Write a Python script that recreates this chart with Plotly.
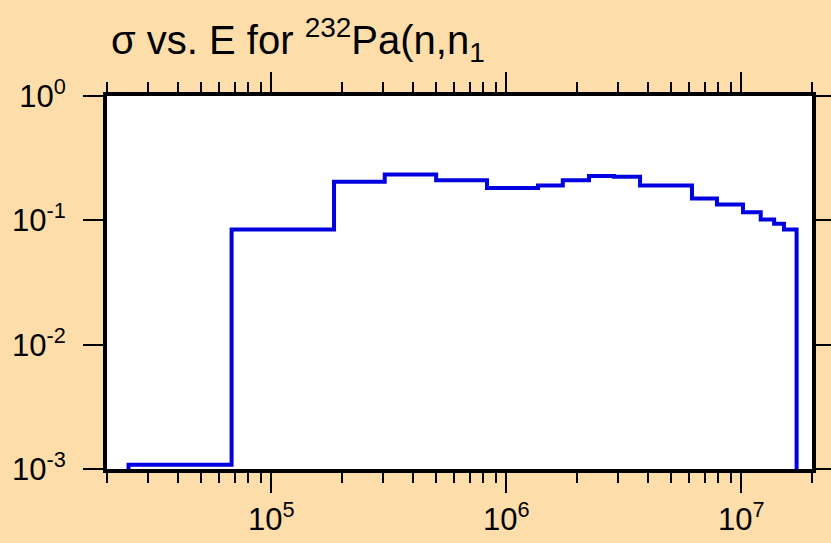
import math
import plotly.graph_objects as go

# Group boundaries (eV) and cross sections (b)
energy_edges = [2.47e4, 6.78e4, 1.85e5, 3.04e5, 5.03e5, 8.28e5, 1.365e6, 1.74e6,
                2.25e6, 2.87e6, 3.71e6, 6.17e6, 7.88e6, 1.017e7, 1.21e7, 1.38e7,
                1.52e7, 1.72e7]
sigma_values = [1.08e-3, 0.0842, 0.204, 0.234, 0.210, 0.182, 0.191, 0.210,
                0.227, 0.224, 0.191, 0.150, 0.134, 0.116, 0.1017, 0.0937, 0.0845]
y_floor = 1e-3

x_tick_vals = [1e5, 1e6, 1e7]
x_tick_text = ["10<sup>5</sup>", "10<sup>6</sup>", "10<sup>7</sup>"]
y_tick_vals = [1e-3, 1e-2, 1e-1, 1e0]
y_tick_text = ["10<sup>-3</sup>", "10<sup>-2</sup>", "10<sup>-1</sup>", "10<sup>0</sup>"]
x_minor_vals = [m * 10 ** d for d in range(4, 8) for m in range(2, 10)]

title_text = "σ vs. E for <sup>232</sup>Pa(n,n<sub>1</sub>"

# step outline
xs = [energy_edges[0]] + energy_edges[:-1] + [energy_edges[-1], energy_edges[-1]]
ys = [y_floor] + sigma_values + [sigma_values[-1], y_floor]

FONT = "Liberation Sans, Arial, Helvetica, sans-serif"

fig = go.Figure()
fig.add_trace(go.Scatter(x=xs, y=ys, mode="lines", line_shape="hv",
                         line=dict(color="#0000E0", width=4), showlegend=False,
                         hoverinfo="skip"))

axis_common = dict(showline=True, linecolor="black", linewidth=4, mirror="allticks",
                   ticks="outside", ticklen=20, tickwidth=2, tickcolor="black",
                   showgrid=False, zeroline=False, automargin=False,
                   tickfont=dict(family=FONT, size=31, color="black"))

fig.update_xaxes(type="log", range=[math.log10(2e4), math.log10(2e7)],
                 tickmode="array", tickvals=x_tick_vals, ticktext=x_tick_text,
                 minor=dict(tickmode="array", tickvals=x_minor_vals, ticks="outside",
                            ticklen=10, tickwidth=2, tickcolor="black"),
                 ticklabelstandoff=0,
                 **axis_common)
fig.update_yaxes(type="log", range=[-3, 0],
                 tickmode="array", tickvals=y_tick_vals, ticktext=y_tick_text,
                 ticklabelstandoff=11,
                 **axis_common)

fig.update_layout(
    width=831, height=543,
    margin=dict(l=107, r=19, t=96, b=74, pad=0, autoexpand=False),
    paper_bgcolor="#FDDEAB",
    plot_bgcolor="#FFFFFF",
    font=dict(family=FONT, color="black"),
    title=dict(text=title_text, font=dict(family=FONT, size=40, color="black"),
               xref="container", x=111 / 831, xanchor="left",
               yref="container", y=1 - 26 / 543, yanchor="top"),
)

fig.write_html("out.html", config={"displayModeBar": False},
               post_script="document.body.style.margin='0';document.body.style.overflow='hidden';")
